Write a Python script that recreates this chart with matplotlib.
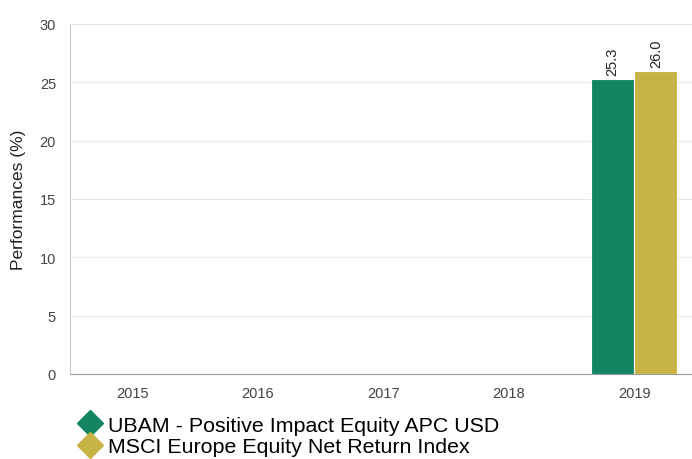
import matplotlib
matplotlib.use("Agg")
import matplotlib.pyplot as plt
import numpy as np
from matplotlib.lines import Line2D

years = ["2015", "2016", "2017", "2018", "2019"]
fund = [np.nan, np.nan, np.nan, np.nan, 25.3]
index = [np.nan, np.nan, np.nan, np.nan, 26.0]
series_names = ["UBAM - Positive Impact Equity APC USD",
                "MSCI Europe Equity Net Return Index"]
colors = ["#138562", "#c8b446"]

plt.rcParams['font.family'] = ['Liberation Sans', 'DejaVu Sans']

fig = plt.figure(figsize=(6.92, 4.6), dpi=100)
ax = fig.add_axes([0.101, 0.185, 0.906, 0.761])

x = np.arange(len(years))
w = 0.345
for i, (vals, c) in enumerate(zip([fund, index], colors)):
    pos = x + (i - 0.5) * w
    ax.bar(pos, vals, width=w, color=c, edgecolor="white", linewidth=0.8, zorder=3)
    for xp, v in zip(pos, vals):
        if not np.isnan(v):
            ax.text(xp, v + 0.3, f"{v:.1f}", rotation=90, ha="center", va="bottom",
                    fontsize=10.5, color="#222222")

ax.set_xlim(-0.5, len(years) - 0.5)
ax.set_ylim(0, 30)
ax.set_yticks(range(0, 31, 5))
ax.set_xticks(x)
ax.set_xticklabels(years)
ax.tick_params(axis="both", length=0, labelsize=10.5, colors="#444444")
ax.tick_params(axis="x", pad=9)
ax.tick_params(axis="y", pad=10)
ax.yaxis.grid(True, color="#e8e8e8", linewidth=0.8, zorder=0)
for s in ["top", "right"]:
    ax.spines[s].set_visible(False)
ax.spines["left"].set_color("#cccccc")
ax.spines["bottom"].set_color("#999999")
ax.set_ylabel("Performances (%)", fontsize=12.5, color="#222222", labelpad=10)

handles = [Line2D([], [], marker="D", linestyle="none", markersize=13, color=c) for c in colors]
fig.legend(handles, series_names, loc="upper left", bbox_to_anchor=(0.097, 0.117),
           frameon=False, fontsize=15.4, handletextpad=0.3, labelspacing=0.1,
           borderpad=0, handlelength=1.1)

fig.savefig("out.png", dpi=100)
